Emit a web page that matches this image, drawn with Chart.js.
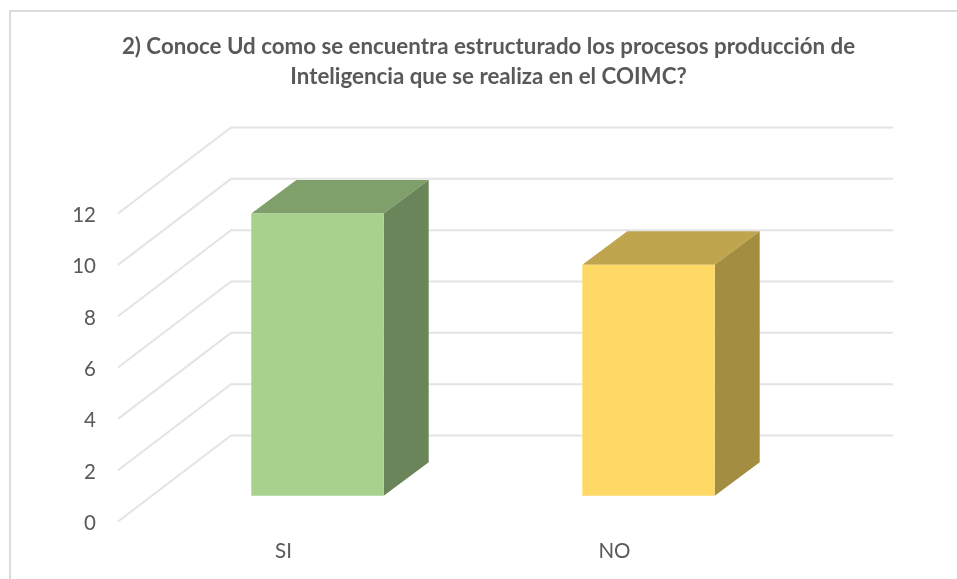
<!DOCTYPE html>
<html lang="es">
<head>
<meta charset="utf-8">
<title>COIMC</title>
<script src="https://cdn.jsdelivr.net/npm/chart.js@4"></script>
<style>
html,body{margin:0;padding:0;background:#fff;overflow:hidden}
canvas{display:block;filter:blur(0.4px)}
</style>
</head>
<body>
<canvas id="c" width="957" height="579"></canvas>
<script>
const categories = ['SI', 'NO'];
const values = [11, 9];
const titleLines = ['2) Conoce Ud como se encuentra estructurado los procesos producción de', 'Inteligencia que se realiza en el COIMC?'];
const frontColors = ['#A9D18E', '#FFD966'];
const topColors = ['#7F9F6B', '#BFA54D'];
const sideColors = ['#6A8559', '#A38D40'];
const gridColor = '#E4E4E4';
const textColor = '#595959';
const wallDepth = {x: 113, y: -86};
const barInset = {x: 34, y: -25.8};
const barDepth = {x: 45, y: -33.5};

const poly = (ctx, pts, fill) => {
  ctx.beginPath();
  pts.forEach((p, i) => i ? ctx.lineTo(p[0], p[1]) : ctx.moveTo(p[0], p[1]));
  ctx.closePath();
  ctx.fillStyle = fill;
  ctx.fill();
};

const frame3d = {
  id: 'frame3d',
  beforeDraw(chart) {
    const ctx = chart.ctx;
    ctx.save();
    ctx.fillStyle = '#fff';
    ctx.fillRect(0, 0, chart.width, chart.height);
    ctx.strokeStyle = '#DCDCDC';
    ctx.lineWidth = 2;
    ctx.beginPath();
    ctx.moveTo(10, chart.height);
    ctx.lineTo(10, 11);
    ctx.lineTo(chart.width, 11);
    ctx.stroke();
    ctx.restore();
  },
  beforeDatasetsDraw(chart) {
    const ctx = chart.ctx, y = chart.scales.y, area = chart.chartArea;
    ctx.save();
    ctx.strokeStyle = gridColor;
    ctx.lineWidth = 2;
    y.ticks.forEach(t => {
      const py = y.getPixelForValue(t.value);
      ctx.beginPath();
      ctx.moveTo(area.left, py);
      ctx.lineTo(area.left + wallDepth.x, py + wallDepth.y);
      ctx.lineTo(area.right + wallDepth.x, py + wallDepth.y);
      ctx.stroke();
    });
    chart.getDatasetMeta(0).data.forEach((bar, i) => {
      const l = bar.x - bar.width / 2 + barInset.x, r = bar.x + bar.width / 2 + barInset.x;
      const t = bar.y + barInset.y, b = bar.base + barInset.y;
      poly(ctx, [[l, t], [l + barDepth.x, t + barDepth.y], [r + barDepth.x, t + barDepth.y], [r, t]], topColors[i]);
      poly(ctx, [[r, t], [r + barDepth.x, t + barDepth.y], [r + barDepth.x, b + barDepth.y], [r, b]], sideColors[i]);
    });
    ctx.restore();
    ctx.save();
    ctx.translate(barInset.x, barInset.y);
  },
  afterDatasetsDraw(chart) {
    chart.ctx.restore();
  }
};

new Chart(document.getElementById('c'), {
  type: 'bar',
  data: {
    labels: categories,
    datasets: [{data: values, backgroundColor: frontColors, borderWidth: 0, barPercentage: 0.4, categoryPercentage: 1, clip: false}]
  },
  plugins: [frame3d],
  options: {
    responsive: false,
    animation: false,
    layout: {padding: {left: 20, right: 0, top: 0, bottom: 0}},
    plugins: {
      legend: {display: false},
      tooltip: {enabled: false},
      title: {
        display: true,
        text: titleLines,
        color: textColor,
        font: {family: 'Lato', size: 22.3, weight: 'bold', lineHeight: 1.31},
        padding: {top: 32.5, bottom: 122.6}
      }
    },
    scales: {
      x: {
        grid: {display: false},
        border: {display: false},
        ticks: {color: textColor, font: {family: 'Lato', size: 20.5}, padding: 10, maxRotation: 0},
        afterFit(s) { s.height = 57.5; }
      },
      y: {
        min: 0, max: 12,
        grid: {display: false},
        border: {display: false},
        ticks: {stepSize: 2, color: textColor, font: {family: 'Lato', size: 20.5}, padding: 14, labelOffset: 2},
        afterFit(s) { s.width = 98; }
      },
      rightSpace: {
        position: 'right',
        display: true,
        grid: {display: false},
        border: {display: false},
        ticks: {display: false},
        afterFit(s) { s.width = 177; }
      }
    }
  }
});
</script>
</body>
</html>
